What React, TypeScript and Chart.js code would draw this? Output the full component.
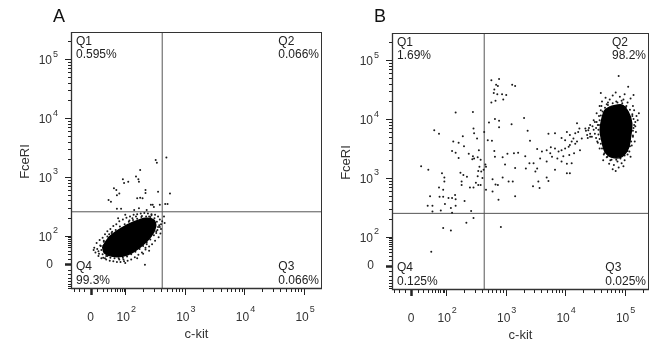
import React, { useEffect, useRef } from 'react';
import { Chart, registerables } from 'chart.js';
Chart.register(...registerables);

// Values are positions on the biexponential display axis, in decades (2 = 10^2, 3 = 10^3 ...)
const decadeTicks = [2, 3, 4, 5];
const decadeExponents = ['2', '3', '4', '5'];
const xAxisTitle = 'c-kit';
const yAxisTitle = 'FceRI';
const quadrantNames = ['Q1', 'Q2', 'Q3', 'Q4'];
const panelTitles = ['A', 'B'];

const aPercents = ['0.595%', '0.066%', '0.066%', '99.3%'];
const bPercents = ['1.69%', '98.2%', '0.025%', '0.125%'];

const aGate = [2.62, 2.41]; // c-kit gate, FceRI gate
const bGate = [2.64, 2.40];

// dense population outlines (solid area)
const aCore: number[][] = [
  [1.62, 1.82], [1.74, 1.99], [1.93, 2.13], [2.15, 2.24], [2.34, 2.30], [2.48, 2.27],
  [2.51, 2.16], [2.43, 1.99], [2.26, 1.82], [2.04, 1.68], [1.82, 1.65], [1.65, 1.71],
];
const bCore: number[][] = [
  [4.76, 4.21], [4.95, 4.24], [5.06, 4.12], [5.12, 3.93], [5.10, 3.70], [5.06, 3.50],
  [4.95, 3.36], [4.79, 3.35], [4.67, 3.45], [4.62, 3.62], [4.59, 3.81], [4.62, 4.01], [4.67, 4.15],
];

// individual events around the dense populations
const aHalo: number[][] = [
  [1.48, 1.80], [1.50, 1.72], [1.52, 1.88], [1.55, 1.66], [1.57, 1.93], [1.60, 1.62], [1.47, 1.76],
  [1.53, 1.78], [1.58, 1.84], [1.62, 1.97], [1.66, 2.03], [1.70, 2.08], [1.75, 2.12], [1.80, 2.17],
  [1.85, 2.20], [1.90, 2.25], [1.96, 2.28], [2.02, 2.31], [2.08, 2.33], [2.14, 2.36], [2.20, 2.37],
  [2.26, 2.38], [2.32, 2.39], [2.38, 2.38], [2.44, 2.37], [2.50, 2.36], [2.55, 2.33], [1.88, 2.30],
  [2.00, 2.36], [2.12, 2.30], [2.28, 2.34], [2.40, 2.33], [2.58, 2.28], [2.60, 2.20], [2.60, 2.12],
  [2.59, 2.04], [2.56, 1.98], [2.54, 2.10], [2.62, 2.25], [2.57, 2.18], [2.50, 1.92], [2.45, 1.86],
  [2.40, 1.82], [2.34, 1.77], [2.28, 1.72], [2.22, 1.68], [2.16, 1.64], [2.10, 1.60], [2.04, 1.58],
  [1.98, 1.57], [1.92, 1.56], [1.86, 1.56], [1.80, 1.57], [1.74, 1.58], [1.68, 1.60], [1.63, 1.63],
  [2.20, 1.62], [2.00, 1.54], [1.90, 1.60], [2.30, 1.70], [2.40, 1.75], [2.33, 1.51], [1.55, 1.74],
  [1.64, 1.90], [1.70, 1.66], [2.47, 2.22], [2.52, 2.05], [2.36, 1.86], [1.78, 2.07], [2.07, 2.26],
  [1.59, 1.83], [1.64, 1.92], [1.70, 1.99], [1.77, 2.05], [1.84, 2.10], [1.91, 2.16], [1.99, 2.20],
  [2.06, 2.24], [2.13, 2.27], [2.20, 2.29], [2.27, 2.32], [2.35, 2.33], [2.42, 2.32], [2.49, 2.30],
  [2.53, 2.24], [2.55, 2.15], [2.52, 2.08], [2.48, 2.01], [2.42, 1.94], [2.36, 1.89], [2.30, 1.83],
  [2.24, 1.78], [2.17, 1.73], [2.10, 1.69], [2.03, 1.65], [1.96, 1.63], [1.89, 1.62], [1.82, 1.62],
  [1.75, 1.63], [1.68, 1.66], [1.62, 1.69], [1.60, 1.76], [1.56, 1.70], [1.66, 1.62], [2.44, 2.35],
  [2.58, 2.15], [2.34, 1.80], [1.97, 1.60], [1.73, 2.03], [2.18, 2.33],
];
const aOutliers: number[][] = [
  [2.51, 3.29], [2.53, 3.24], [2.69, 3.33], [2.25, 3.12], [1.96, 2.96], [1.98, 2.90], [2.05, 2.92],
  [2.18, 3.01], [2.22, 2.96], [2.23, 2.92], [1.81, 2.81], [1.85, 2.78], [1.86, 2.69], [1.90, 2.72],
  [1.72, 2.61], [1.76, 2.58], [2.34, 2.78], [2.34, 2.73], [2.20, 2.64], [2.25, 2.65], [2.29, 2.64],
  [2.55, 2.75], [2.75, 2.72], [1.86, 2.46], [1.93, 2.46], [2.15, 2.44], [2.43, 2.53], [2.46, 2.53],
  [2.58, 2.53], [2.67, 2.54], [2.71, 2.54], [2.23, 2.47], [2.36, 2.44], [2.48, 2.49], [2.65, 2.33],
  [2.66, 2.22],
];
const bHalo: number[][] = [
  [4.62, 4.30], [4.68, 4.36], [4.75, 4.33], [4.80, 4.40], [4.86, 4.30], [4.92, 4.38], [4.98, 4.33],
  [5.05, 4.28], [5.10, 4.35], [4.70, 4.25], [4.85, 4.45], [5.00, 4.42], [5.14, 4.22], [4.58, 4.22],
  [5.16, 4.15], [5.20, 4.05], [5.18, 3.95], [5.22, 3.98], [5.15, 3.85], [5.19, 3.78], [5.14, 3.70],
  [5.17, 3.62], [5.12, 3.55], [5.24, 4.10], [5.13, 4.05], [5.05, 3.40], [5.00, 3.30], [4.95, 3.25],
  [4.88, 3.28], [4.82, 3.22], [4.76, 3.30], [4.70, 3.35], [4.90, 3.18], [4.80, 3.15], [4.65, 3.40],
  [4.85, 3.12], [4.58, 3.50], [4.55, 3.60], [4.52, 3.68], [4.50, 3.75], [4.48, 3.82], [4.55, 3.90],
  [4.50, 3.95], [4.57, 4.05], [4.53, 4.10], [4.46, 3.88], [4.42, 3.75], [4.40, 3.85], [4.60, 4.15],
  [4.45, 3.70], [4.35, 3.80], [4.38, 3.68], [4.90, 4.73], [5.06, 4.55], [5.15, 4.41], [4.60, 4.44],
  [5.08, 3.45], [4.72, 4.28], [5.02, 4.20], [4.64, 3.30], [4.98, 3.20],
  [4.72, 4.24], [4.80, 4.27], [4.88, 4.28], [4.96, 4.27], [5.03, 4.22], [5.09, 4.16], [5.13, 4.08],
  [5.15, 4.00], [5.16, 3.90], [5.14, 3.80], [5.14, 3.72], [5.11, 3.62], [5.09, 3.54], [5.05, 3.46],
  [5.00, 3.38], [4.93, 3.33], [4.86, 3.31], [4.78, 3.31], [4.71, 3.36], [4.66, 3.42], [4.62, 3.50],
  [4.60, 3.58], [4.58, 3.66], [4.56, 3.74], [4.56, 3.82], [4.57, 3.90], [4.58, 3.98], [4.60, 4.06],
  [4.63, 4.13], [4.67, 4.19], [4.52, 3.85], [4.53, 3.95], [4.61, 4.22], [5.18, 3.88], [5.10, 3.36],
  [4.74, 3.24], [4.95, 4.31], [4.54, 3.62],
];
const bScatter: number[][] = [
  [2.76, 4.66], [2.89, 4.68], [2.84, 4.58], [2.87, 4.56], [3.11, 4.58], [3.16, 4.56], [2.81, 4.50],
  [2.80, 4.44], [2.86, 4.42], [2.94, 4.42], [3.01, 4.41], [2.96, 4.33], [2.76, 4.28], [2.83, 4.31],
  [2.16, 4.11], [2.45, 4.12], [1.80, 3.81], [1.88, 3.75], [2.12, 3.62], [2.21, 3.60], [2.28, 3.71],
  [2.30, 3.54], [2.10, 3.46], [2.16, 3.43], [2.21, 3.34], [2.38, 3.41], [2.45, 3.37], [2.47, 3.33],
  [2.55, 3.47], [2.46, 3.84], [2.47, 3.76], [2.52, 3.67], [2.64, 3.78], [2.70, 3.64], [2.77, 3.63],
  [2.72, 3.94], [2.82, 4.00], [2.89, 3.97], [2.89, 3.86], [2.44, 3.32], [2.53, 3.35], [2.58, 3.31],
  [2.66, 3.23], [2.67, 3.19], [2.63, 3.14], [2.54, 3.12], [2.56, 3.19], [1.58, 3.20], [1.70, 3.14],
  [1.93, 3.08], [1.97, 3.01], [1.97, 2.94], [2.24, 3.09], [2.29, 3.05], [2.26, 2.94], [2.26, 2.88],
  [2.35, 3.02], [2.40, 2.84], [2.46, 2.84], [2.50, 2.92], [2.54, 2.88], [2.58, 2.88], [2.53, 3.03],
  [2.61, 3.00], [2.59, 3.11], [1.88, 2.84], [1.95, 2.80], [1.89, 2.68], [1.95, 2.68], [2.04, 2.66],
  [2.15, 2.71], [2.10, 2.66], [2.16, 2.64], [1.73, 2.69], [1.69, 2.53], [1.77, 2.53], [1.77, 2.43],
  [1.91, 2.45], [1.98, 2.56], [2.08, 2.49], [2.16, 2.53], [2.31, 2.61], [2.42, 2.44], [2.10, 2.41],
  [2.46, 2.32], [2.34, 2.24], [1.95, 2.15], [2.08, 2.11], [2.92, 2.17], [1.75, 1.75], [2.78, 2.98],
  [2.83, 2.89], [2.87, 2.88], [2.95, 3.01], [3.05, 2.94], [3.12, 2.94], [2.99, 3.23], [3.16, 3.17],
  [3.14, 3.42], [2.81, 3.46], [2.82, 3.36], [2.95, 3.35], [3.03, 3.41], [3.10, 3.91], [3.21, 3.43],
  [3.16, 2.69], [2.78, 2.77], [2.88, 2.63], [2.67, 2.80], [3.31, 4.02], [3.37, 3.80], [3.41, 3.63],
  [3.53, 3.49], [3.61, 3.45], [3.69, 3.47], [3.76, 3.52], [3.83, 3.50], [3.75, 3.42], [3.78, 3.36],
  [3.72, 3.75], [3.83, 3.76], [3.94, 3.68], [4.03, 3.78], [4.08, 3.73], [4.17, 3.76], [4.22, 3.78],
  [4.20, 3.93], [4.24, 3.84], [4.00, 3.64], [4.11, 3.62], [4.17, 3.58], [4.06, 3.53], [4.25, 3.47],
  [4.15, 3.42], [4.07, 3.39], [3.97, 3.37], [3.87, 3.33], [3.94, 3.28], [4.03, 3.24], [4.11, 3.25],
  [3.89, 3.45], [3.94, 3.47], [4.00, 3.50], [3.83, 3.14], [4.03, 3.08], [4.08, 3.08], [3.69, 3.28],
  [3.53, 3.16], [3.58, 3.33], [3.47, 3.25], [3.40, 3.25], [3.34, 3.16], [3.50, 3.11], [3.55, 2.94],
  [3.69, 3.01], [3.72, 2.95], [3.46, 2.86], [3.57, 2.83], [3.33, 3.37], [4.34, 3.84], [4.39, 3.81],
  [4.42, 3.90], [4.48, 3.98], [4.37, 3.73], [4.42, 3.70], [4.08, 3.56], [4.20, 3.62], [4.28, 3.67],
  [4.14, 3.67],
];

type Panel = {
  title: string; width: number; left: number; right: number; top: number; bottom: number;
  xMin: number; xMax: number; yMin: number; yMax: number; zeroX: number; zeroY: number;
  gate: number[]; core: number[][]; dots: number[][]; percents: string[];
};

const H = 351;
const panels: Panel[] = [
  { title: panelTitles[0], width: 326, left: 71, right: 325, top: 32, bottom: 289,
    xMin: 1.09, xMax: 5.30, yMin: 1.10, yMax: 5.46, zeroX: 1.42, zeroY: 1.52,
    gate: aGate, core: aCore, dots: [...aHalo, ...aOutliers], percents: aPercents },
  { title: panelTitles[1], width: 327, left: 66, right: 323, top: 33, bottom: 290,
    xMin: 1.09, xMax: 5.41, yMin: 1.10, yMax: 5.46, zeroX: 1.41, zeroY: 1.51,
    gate: bGate, core: bCore, dots: [...bHalo, ...bScatter], percents: bPercents },
];

const FONT = '"Liberation Sans", Arial, sans-serif';

function axisMarks(zero: number) {
  const out: { u: number; major: boolean; zero?: boolean }[] = [];
  for (let d = 2; d <= 5; d++) for (let k = 1; k <= 9; k++) out.push({ u: d + Math.log10(k), major: k === 1 });
  const s = Math.asinh(100 / 25);
  for (let v = -90; v <= 90; v += 10) {
    if (v === 0) continue;
    out.push({ u: zero + ((2 - zero) * Math.asinh(v / 25)) / s, major: false });
  }
  out.push({ u: zero, major: true, zero: true });
  return out;
}

function makePlugin(p: Panel) {
  return {
    id: 'flowDecor',
    afterDraw(chart: any) {
      const ctx: CanvasRenderingContext2D = chart.ctx;
      const xs = chart.scales.x;
      const ys = chart.scales.y;
      const ca = chart.chartArea;
      ctx.save();
      // frame
      ctx.strokeStyle = '#333';
      ctx.lineWidth = 1;
      ctx.strokeRect(Math.round(ca.left) + 0.5, Math.round(ca.top) + 0.5, Math.round(ca.right - ca.left) - 1, Math.round(ca.bottom - ca.top) - 1);
      ctx.lineWidth = 1.3;
      ctx.beginPath();
      ctx.moveTo(ca.left + 0.5, ca.top);
      ctx.lineTo(ca.left + 0.5, ca.bottom - 0.5);
      ctx.lineTo(ca.right, ca.bottom - 0.5);
      ctx.stroke();
      // ticks
      ctx.strokeStyle = '#222';
      for (const m of axisMarks(p.zeroY)) {
        if (m.u < p.yMin || m.u > p.yMax) continue;
        const y = Math.round(ys.getPixelForValue(m.u)) + 0.5;
        ctx.lineWidth = m.zero ? 2.5 : 1;
        ctx.beginPath();
        ctx.moveTo(ca.left, y);
        ctx.lineTo(ca.left - (m.major ? 6 : 3), y);
        ctx.stroke();
      }
      for (const m of axisMarks(p.zeroX)) {
        if (m.u < p.xMin || m.u > p.xMax) continue;
        const x = Math.round(xs.getPixelForValue(m.u)) + 0.5;
        ctx.lineWidth = m.zero ? 2.5 : 1;
        ctx.beginPath();
        ctx.moveTo(x, ca.bottom);
        ctx.lineTo(x, ca.bottom + (m.major ? 6 : 3));
        ctx.stroke();
      }
      // tick labels
      ctx.fillStyle = '#333';
      ctx.textBaseline = 'middle';
      decadeTicks.forEach((d, i) => {
        if (d > p.xMax + 0.05) return;
        const x = xs.getPixelForValue(d) - 2;
        const y = ca.bottom + 29;
        ctx.font = `12px ${FONT}`;
        ctx.textAlign = 'center';
        ctx.fillText('10', x, y);
        const w = ctx.measureText('10').width;
        ctx.font = `9px ${FONT}`;
        ctx.textAlign = 'left';
        ctx.fillText(decadeExponents[i], x + w / 2 + 1, y - 8);
      });
      ctx.font = `12px ${FONT}`;
      ctx.textAlign = 'center';
      ctx.fillText('0', xs.getPixelForValue(p.zeroX), ca.bottom + 29);
      decadeTicks.forEach((d, i) => {
        const y = ys.getPixelForValue(d) + 2;
        const x = ca.left - 19;
        ctx.font = `12px ${FONT}`;
        ctx.textAlign = 'right';
        ctx.fillText('10', x, y);
        ctx.font = `9px ${FONT}`;
        ctx.textAlign = 'left';
        ctx.fillText(decadeExponents[i], x + 1, y - 7);
      });
      ctx.font = `12px ${FONT}`;
      ctx.textAlign = 'right';
      ctx.fillText('0', ca.left - 18, ys.getPixelForValue(p.zeroY));
      // axis titles
      ctx.font = `13px ${FONT}`;
      ctx.textAlign = 'center';
      ctx.fillText(xAxisTitle, (ca.left + ca.right) / 2, ca.bottom + 45);
      ctx.save();
      ctx.translate(ca.left - 46, (ca.top + ca.bottom) / 2 + 1);
      ctx.rotate(-Math.PI / 2);
      ctx.fillText(yAxisTitle, 0, 0);
      ctx.restore();
      // panel letter
      ctx.fillStyle = '#111';
      ctx.font = `18px ${FONT}`;
      ctx.textAlign = 'center';
      ctx.fillText(p.title, ca.left - 12, 17);
      // quadrant labels
      ctx.fillStyle = '#222';
      ctx.font = `12px ${FONT}`;
      ctx.textAlign = 'left';
      ctx.fillText(quadrantNames[0], ca.left + 5, ca.top + 10);
      ctx.fillText(p.percents[0], ca.left + 5, ca.top + 23);
      ctx.fillText(quadrantNames[3], ca.left + 5, ca.bottom - 22);
      ctx.fillText(p.percents[3], ca.left + 5, ca.bottom - 8);
      const w2 = ctx.measureText(p.percents[1]).width;
      const w3 = ctx.measureText(p.percents[2]).width;
      ctx.fillText(quadrantNames[1], ca.right - 3 - w2, ca.top + 10);
      ctx.fillText(p.percents[1], ca.right - 3 - w2, ca.top + 23);
      ctx.fillText(quadrantNames[2], ca.right - 3 - w3, ca.bottom - 22);
      ctx.fillText(p.percents[2], ca.right - 3 - w3, ca.bottom - 8);
      ctx.restore();
    },
  };
}

function FlowPanel({ p }: { p: Panel }) {
  const ref = useRef<HTMLCanvasElement>(null);
  useEffect(() => {
    if (!ref.current) return;
    const pt = (a: number[]) => ({ x: a[0], y: a[1] });
    const chart = new Chart(ref.current, {
      type: 'scatter',
      data: {
        datasets: [
          {
            type: 'line',
            data: [...p.core, p.core[0]].map(pt),
            borderColor: '#000',
            backgroundColor: '#000',
            borderWidth: 1.5,
            tension: 0.3,
            pointRadius: 0,
            fill: 'shape',
          } as any,
          {
            data: p.dots.map(pt),
            pointRadius: 1,
            pointBorderWidth: 0,
            pointBackgroundColor: '#1a1a1a',
            backgroundColor: '#1a1a1a',
          },
          {
            type: 'line',
            data: [{ x: p.gate[0], y: p.yMin }, { x: p.gate[0], y: p.yMax }],
            borderColor: '#555',
            borderWidth: 1,
            pointRadius: 0,
            fill: false,
          } as any,
          {
            type: 'line',
            data: [{ x: p.xMin, y: p.gate[1] }, { x: p.xMax, y: p.gate[1] }],
            borderColor: '#555',
            borderWidth: 1,
            pointRadius: 0,
            fill: false,
          } as any,
        ],
      },
      options: {
        animation: false,
        responsive: false,
        maintainAspectRatio: false,
        devicePixelRatio: 1,
        layout: { padding: { top: p.top, right: p.width - p.right, left: 0, bottom: 0 } },
        plugins: { legend: { display: false }, tooltip: { enabled: false } },
        scales: {
          x: {
            type: 'linear', min: p.xMin, max: p.xMax,
            grid: { display: false }, border: { display: false }, ticks: { display: false },
            afterFit: (s: any) => { s.height = H - p.bottom; },
          },
          y: {
            type: 'linear', min: p.yMin, max: p.yMax,
            grid: { display: false }, border: { display: false }, ticks: { display: false },
            afterFit: (s: any) => { s.width = p.left; },
          },
        },
      } as any,
      plugins: [makePlugin(p)],
    });
    return () => chart.destroy();
  }, [p]);
  return <canvas ref={ref} width={p.width} height={H} style={{ display: 'block', width: p.width, height: H }} />;
}

export default function App() {
  useEffect(() => {
    document.body.style.margin = '0';
    document.body.style.background = '#fff';
  }, []);
  return (
    <div style={{ display: 'flex', width: 653, height: H, background: '#fff' }}>
      {panels.map((p) => (
        <FlowPanel key={p.title} p={p} />
      ))}
    </div>
  );
}
